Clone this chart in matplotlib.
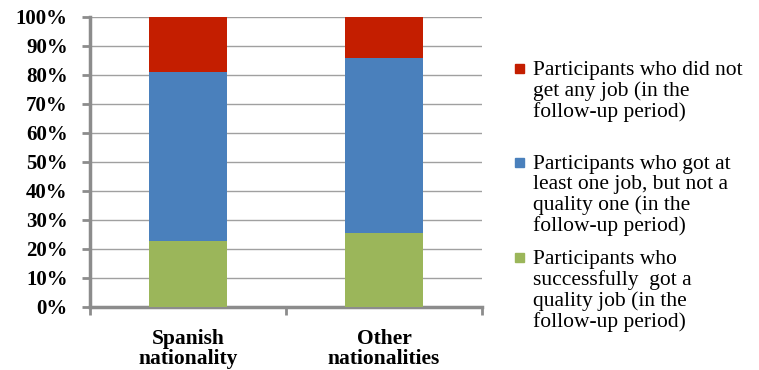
import numpy as np
import matplotlib.pyplot as plt
from matplotlib.patches import Rectangle

# Data (percent of participants)
categories = ["Spanish\nnationality", "Other\nnationalities"]
quality_job = [22.5, 25.5]
job_not_quality = [58.5, 60.3]
no_job = [19.0, 14.2]

series_labels = [
    "Participants who did not\nget any job (in the\nfollow-up period)",
    "Participants who got at\nleast one job, but not a\nquality one (in the\nfollow-up period)",
    "Participants who\nsuccessfully  got a\nquality job (in the\nfollow-up period)",
]
colors = ["#C41E00", "#4A80BC", "#9BB65A"]

plt.rcParams["font.family"] = ["Liberation Serif", "DejaVu Serif"]

fig = plt.figure(figsize=(7.59, 3.70), dpi=100)
ax = fig.add_axes([90 / 759, 1 - 306.7 / 370, 392 / 759, 290 / 370])

x = np.arange(len(categories))
green = np.array(quality_job)
blue = np.array(job_not_quality)
red = np.array(no_job)

ax.bar(x, green, width=0.4, color=colors[2], zorder=3)
ax.bar(x, blue, width=0.4, bottom=green, color=colors[1], zorder=3)
ax.bar(x, red, width=0.4, bottom=green + blue, color=colors[0], zorder=3)

ax.set_xlim(-0.5, 1.5)
ax.set_ylim(0, 100)
ax.set_yticks(np.arange(0, 101, 10))
ax.set_yticklabels([f"{v}%" for v in range(0, 101, 10)], fontsize=15, fontweight="bold")
ax.yaxis.grid(True, color="#a0a0a0", linewidth=1, zorder=0)

ax.set_xticks(x)
ax.set_xticklabels(categories, fontsize=15.5, fontweight="bold", linespacing=1.0)
ax.tick_params(axis="x", length=0, pad=16)
ax.set_xticks([-0.5, 0.5, 1.5], minor=True)
ax.tick_params(axis="x", which="minor", length=6, width=2, color="#8c8c8c")
ax.tick_params(axis="y", length=6, width=2, color="#8c8c8c", pad=10)

for s in ["top", "right"]:
    ax.spines[s].set_visible(False)
for s in ["left", "bottom"]:
    ax.spines[s].set_color("#8c8c8c")
    ax.spines[s].set_linewidth(2.5)

# Legend drawn by hand to match the spacing of the original
legend_tops = [61, 155, 250]
for lbl, col, top in zip(series_labels, colors, legend_tops):
    fig.patches.append(Rectangle((515 / 759, 1 - (top + 12) / 370), 9 / 759, 9 / 370,
                                 transform=fig.transFigure, color=col))
    fig.text(533 / 759, 1 - top / 370, lbl, fontsize=15.5, va="top", ha="left",
             linespacing=1.08)

fig.savefig("out.png", dpi=100)
